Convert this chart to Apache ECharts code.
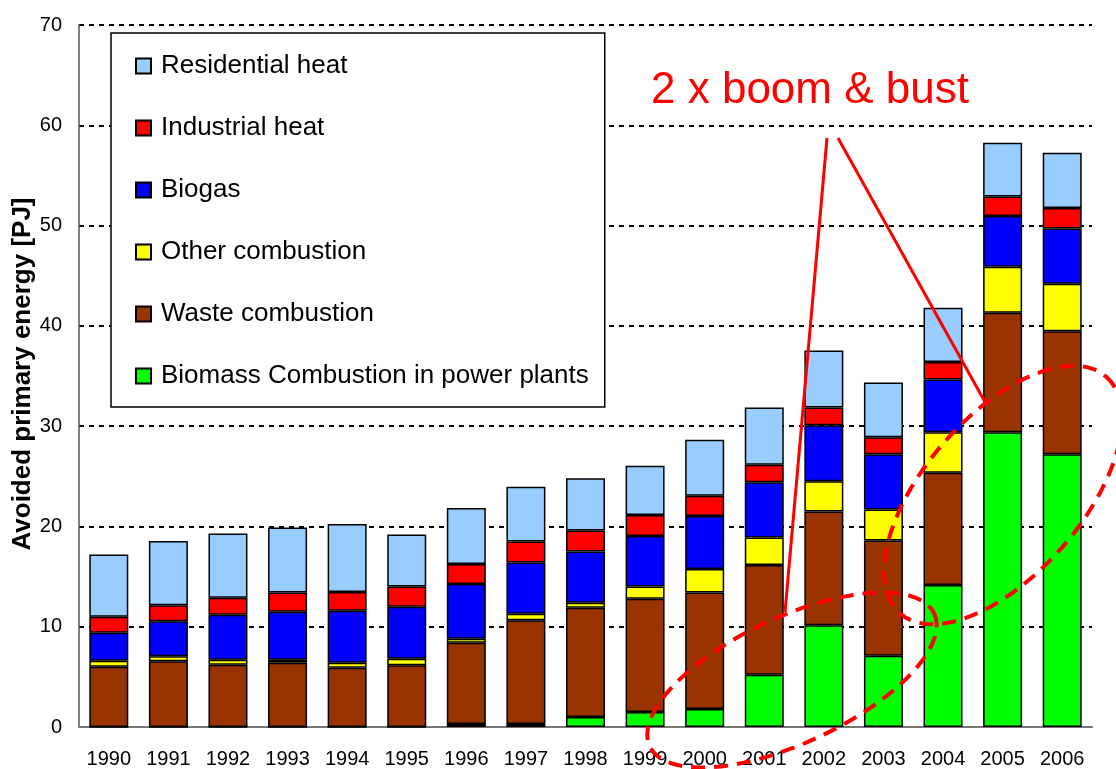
<!DOCTYPE html>
<html>
<head>
<meta charset="utf-8">
<script src="https://cdn.jsdelivr.net/npm/echarts@6/dist/echarts.min.js"></script>
<style>
  html, body { margin: 0; padding: 0; background: #fff; }
  #chart { width: 1116px; height: 769px; }
</style>
</head>
<body>
<div id="chart"></div>
<script>
// values, PJ
const years = ['1990', '1991', '1992', '1993', '1994', '1995', '1996', '1997', '1998',
  '1999', '2000', '2001', '2002', '2003', '2004', '2005', '2006'];
const biomass = [0, 0, 0, 0, 0, 0, 0.3, 0.3, 1.0, 1.5, 1.8, 5.2, 10.15, 7.1, 14.15, 29.4, 27.2];
const waste = [6.0, 6.55, 6.2, 6.4, 5.9, 6.15, 8.1, 10.35, 10.9, 11.3, 11.6, 10.95, 11.35, 11.5, 11.2, 11.9, 12.25];
const otherComb = [0.6, 0.5, 0.5, 0.3, 0.5, 0.65, 0.4, 0.65, 0.5, 1.2, 2.35, 2.75, 3.0, 3.1, 4.05, 4.6, 4.75];
const biogas = [2.8, 3.5, 4.5, 4.8, 5.2, 5.2, 5.45, 5.1, 5.1, 5.05, 5.3, 5.5, 5.6, 5.5, 5.25, 5.05, 5.5];
const industrial = [1.6, 1.6, 1.7, 1.9, 1.85, 2.0, 2.0, 2.1, 2.1, 2.1, 2.0, 1.75, 1.75, 1.7, 1.75, 1.95, 2.05];
const residential = [6.2, 6.4, 6.4, 6.5, 6.8, 5.2, 5.6, 5.45, 5.2, 4.9, 5.6, 5.7, 5.7, 5.45, 5.4, 5.35, 5.5];

const seriesDefs = [
  { name: 'Biomass Combustion in power plants', data: biomass, color: '#00FF00' },
  { name: 'Waste combustion', data: waste, color: '#993300' },
  { name: 'Other combustion', data: otherComb, color: '#FFFF00' },
  { name: 'Biogas', data: biogas, color: '#0000FF' },
  { name: 'Industrial heat', data: industrial, color: '#FF0000' },
  { name: 'Residential heat', data: residential, color: '#99CCFF' }
];

const FONT = 'Liberation Sans, Arial, sans-serif';

// dashed ring used for the hand-drawn annotation
function ring(cx, cy, a, b, deg) {
  const r = deg * Math.PI / 180;
  const pts = [];
  for (let i = 0; i < 72; i++) {
    const t = i / 72 * Math.PI * 2;
    const x = a * Math.cos(t), y = b * Math.sin(t);
    pts.push([cx + x * Math.cos(r) + y * Math.sin(r), cy - x * Math.sin(r) + y * Math.cos(r)]);
  }
  return {
    type: 'polygon',
    z: 100,
    shape: { points: pts },
    style: { fill: null, stroke: '#FF0000', lineWidth: 4, lineDash: [14, 9] }
  };
}

const chart = echarts.init(document.getElementById('chart'), null, { renderer: 'canvas' });

chart.setOption({
  animation: false,
  backgroundColor: '#fff',
  textStyle: { fontFamily: FONT },
  grid: { left: 79, right: 24, top: 25, bottom: 42, containLabel: false, outerBoundsMode: 'none' },
  legend: {
    left: 111,
    top: 33,
    orient: 'vertical',
    data: seriesDefs.map(s => s.name).reverse(),
    itemWidth: 15,
    itemHeight: 15,
    itemGap: 32,
    padding: [18, 16, 16, 24],
    backgroundColor: '#fff',
    borderColor: '#000',
    borderWidth: 1.5,
    borderRadius: 0,
    icon: 'rect',
    textStyle: {
      fontFamily: FONT,
      fontSize: 26,
      lineHeight: 30,
      color: '#000',
      padding: [0, 0, 0, 5]
    }
  },
  xAxis: {
    type: 'category',
    data: years,
    axisLine: { lineStyle: { color: '#777', width: 2 } },
    axisTick: { show: false },
    axisLabel: { fontSize: 20, color: '#000', margin: 22, fontFamily: FONT }
  },
  yAxis: {
    type: 'value',
    min: 0,
    max: 70,
    interval: 10,
    axisLine: { show: true, lineStyle: { color: '#555', width: 1.5 } },
    axisTick: { show: false },
    axisLabel: { fontSize: 20, color: '#000', margin: 17, fontFamily: FONT },
    splitLine: { lineStyle: { color: '#000', type: [5, 5], width: 2 } }
  },
  series: seriesDefs.map(s => ({
    name: s.name,
    type: 'bar',
    stack: 'total',
    barWidth: 39,
    data: s.data,
    itemStyle: { color: s.color, borderColor: '#000', borderWidth: 1.5 }
  })),
  graphic: [
    {
      // y axis title
      type: 'text',
      x: 23,
      y: 374,
      rotation: Math.PI / 2,
      style: {
        text: 'Avoided primary energy [PJ]',
        font: 'bold 26px ' + FONT,
        fill: '#000',
        align: 'center',
        verticalAlign: 'middle'
      }
    },
    {
      type: 'text',
      z: 100,
      x: 651,
      y: 91,
      style: {
        text: '2 x boom & bust',
        font: '44px ' + FONT,
        fill: '#FF0000',
        verticalAlign: 'middle'
      }
    },
    {
      type: 'line', z: 100,
      shape: { x1: 827, y1: 138, x2: 785, y2: 612 },
      style: { stroke: '#FF0000', lineWidth: 3 }
    },
    {
      type: 'line', z: 100,
      shape: { x1: 838, y1: 138, x2: 985, y2: 402 },
      style: { stroke: '#FF0000', lineWidth: 3 }
    },
    ring(792, 680, 157, 63, 25),
    ring(1003, 495, 157, 79, 49)
  ]
});
</script>
</body>
</html>
